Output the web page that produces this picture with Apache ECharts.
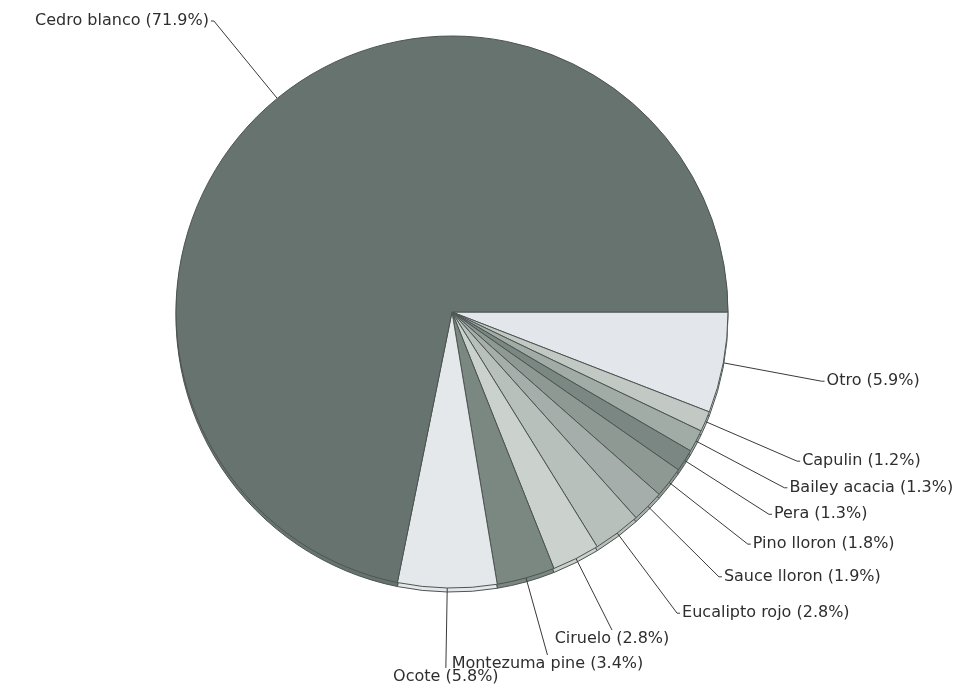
<!DOCTYPE html>
<html>
<head>
<meta charset="utf-8">
<script src="https://cdn.jsdelivr.net/npm/echarts@6/dist/echarts.min.js"></script>
<style>
  html, body { margin: 0; padding: 0; background: #fff; }
  #chart { width: 973px; height: 687px; }
</style>
</head>
<body>
<div id="chart"></div>
<script>
// Species share (%) — listed clockwise starting at 3 o'clock
const species = ['Otro', 'Capulin', 'Bailey acacia', 'Pera', 'Pino lloron', 'Sauce lloron',
                 'Eucalipto rojo', 'Ciruelo', 'Montezuma pine', 'Ocote', 'Cedro blanco'];
const shares = [5.9, 1.2, 1.3, 1.3, 1.8, 1.9, 2.8, 2.8, 3.4, 5.8, 71.9];
const sliceColors = ['#e3e6ea', '#c2c9c5', '#a2aca7', '#7b8782', '#8e9994', '#a5aeaa',
                     '#b7c0bb', '#cbd2ce', '#7b8781', '#e5e8eb', '#67736e'];
// Slices near the bottom get a straight leader with the label centred underneath
const centredBelow = ['Ciruelo', 'Montezuma pine', 'Ocote'];

const PIE_CENTER = [452, 312];
const PIE_RADIUS = 276;
const RIM_DEPTH = 4;      // thickness of the pie's lower edge
const BOTTOM_LEADER = 80; // leader length for the centred-below labels

const chart = echarts.init(document.getElementById('chart'), null, { renderer: 'canvas' });

const pieData = species.map((name, i) => ({
  name,
  value: shares[i],
  itemStyle: { color: sliceColors[i] }
}));

chart.setOption({
  animation: false,
  backgroundColor: '#ffffff',
  series: [
    {
      // lower rim, peeking out below the face of the pie
      type: 'pie',
      silent: true,
      center: [PIE_CENTER[0], PIE_CENTER[1] + RIM_DEPTH],
      radius: PIE_RADIUS,
      startAngle: 0,
      clockwise: true,
      z: 1,
      data: pieData,
      itemStyle: { borderColor: '#4d5552', borderWidth: 1 },
      label: { show: false },
      labelLine: { show: false }
    },
    {
      type: 'pie',
      center: PIE_CENTER,
      radius: PIE_RADIUS,
      startAngle: 0,
      clockwise: true,
      z: 2,
      avoidLabelOverlap: true,
      data: pieData,
      itemStyle: { borderColor: '#4d5552', borderWidth: 1 },
      label: {
        formatter: p => `${p.name} (${p.value}%)`,
        fontFamily: 'DejaVu Sans',
        fontSize: 16,
        color: '#2e2e2e',
        distanceToLabelLine: 2
      },
      labelLine: {
        length: 100,
        length2: 3,
        lineStyle: { color: '#3a3a3a', width: 1 }
      },
      labelLayout: params => {
        if (params.seriesIndex !== 1) return {};
        const name = species[params.dataIndex];
        if (!centredBelow.includes(name)) return {};
        const start = params.labelLinePoints[0];
        const dx = start[0] - PIE_CENTER[0];
        const dy = start[1] - PIE_CENTER[1];
        const len = Math.sqrt(dx * dx + dy * dy);
        const end = [start[0] + dx / len * BOTTOM_LEADER, start[1] + dy / len * BOTTOM_LEADER];
        return {
          x: end[0],
          y: end[1] + 9,
          align: 'center',
          verticalAlign: 'middle',
          labelLinePoints: [start, end, end]
        };
      }
    }
  ]
});
</script>
</body>
</html>
